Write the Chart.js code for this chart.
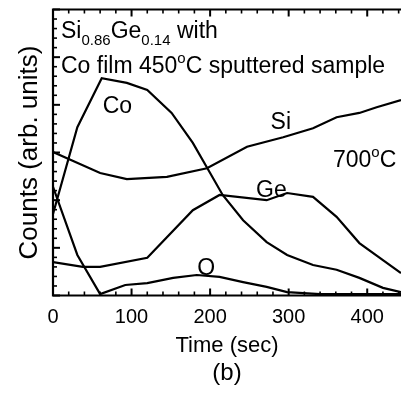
<!DOCTYPE html>
<html>
<head>
<meta charset="utf-8">
<script src="https://cdn.jsdelivr.net/npm/chart.js@4"></script>
<style>
  html, body { margin: 0; padding: 0; background: #fff; overflow: hidden; }
  #wrap { width: 401px; height: 397px; }
</style>
</head>
<body>
<div id="wrap"><canvas id="chart" width="401" height="397"></canvas></div>
<script>
// depth profile values (time in sec, counts in arb. units)
const coTime = [0, 31, 62, 94, 120, 151, 178, 200, 216, 242, 272, 298, 331, 361, 390, 420, 443];
const coCounts = [1.71, 3.53, 4.56, 4.46, 4.31, 3.83, 3.20, 2.57, 2.11, 1.58, 1.12, 0.85, 0.64, 0.54, 0.37, 0.16, 0.07];

const siTime = [0, 60, 94, 145, 196, 247, 293, 331, 361, 390, 412, 443];
const siCounts = [3.01, 2.57, 2.44, 2.49, 2.67, 3.12, 3.32, 3.51, 3.74, 3.83, 3.95, 4.10];

const geTime = [0, 38, 60, 120, 178, 212, 272, 298, 331, 361, 390, 420, 443];
const geCounts = [0.70, 0.60, 0.60, 0.79, 1.79, 2.11, 2.00, 2.15, 2.07, 1.65, 1.10, 0.74, 0.47];

const oTime = [0, 31, 60, 92, 120, 153, 183, 212, 242, 272, 298, 340, 443];
const oCounts = [2.28, 0.85, 0.03, 0.22, 0.26, 0.37, 0.43, 0.39, 0.28, 0.18, 0.07, 0.03, 0.03];

const xTicks = [0, 100, 200, 300, 400];

const FONT = "'Liberation Sans', Arial, Helvetica, sans-serif";
Chart.defaults.font.family = FONT;
Chart.defaults.color = '#000';

function pts(xs, ys) {
  return xs.map((x, i) => ({ x: x, y: ys[i] }));
}

function line(label, xs, ys) {
  return {
    label: label,
    data: pts(xs, ys),
    borderColor: '#000',
    borderWidth: 2.2,
    pointRadius: 0,
    tension: 0,
    fill: false
  };
}

// write a row of text pieces, some of them raised or lowered
function runs(ctx, x, y, parts) {
  parts.forEach(p => {
    ctx.font = p.size + 'px ' + FONT;
    ctx.fillText(p.t, x, y + (p.dy || 0));
    x += ctx.measureText(p.t).width;
  });
}

const frame = {
  id: 'frame',
  afterDraw(chart) {
    const ctx = chart.ctx;
    const { left, top, right, bottom } = chart.chartArea;
    const xs = chart.scales.x, ys = chart.scales.y;
    ctx.save();
    ctx.strokeStyle = '#000';
    ctx.lineWidth = 2.2;
    ctx.beginPath();
    ctx.moveTo(right + 5, top);
    ctx.lineTo(left, top);
    ctx.lineTo(left, bottom);
    ctx.lineTo(right + 5, bottom);
    ctx.stroke();

    // inward ticks, major every 100 s, minor every 20 s
    for (let v = 0; v <= 440; v += 20) {
      const px = xs.getPixelForValue(v);
      const len = v % 100 === 0 ? 7 : 4;
      ctx.lineWidth = v % 100 === 0 ? 2 : 1.6;
      ctx.beginPath();
      ctx.moveTo(px, bottom); ctx.lineTo(px, bottom - len);
      ctx.moveTo(px, top); ctx.lineTo(px, top + len);
      ctx.stroke();
    }
    for (let i = 0; i <= 30; i++) {
      const py = ys.getPixelForValue(i / 5);
      const len = i % 5 === 0 ? 7 : 4;
      ctx.lineWidth = i % 5 === 0 ? 2 : 1.6;
      ctx.beginPath();
      ctx.moveTo(left, py); ctx.lineTo(left + len, py);
      ctx.stroke();
    }

    ctx.fillStyle = '#000';
    ctx.textBaseline = 'alphabetic';
    ctx.textAlign = 'left';
    runs(ctx, 61, 38, [
      { t: 'Si', size: 23 }, { t: '0.86', size: 15, dy: 7 },
      { t: 'Ge', size: 23 }, { t: '0.14', size: 15, dy: 7 },
      { t: ' with', size: 23 }
    ]);
    runs(ctx, 61, 73, [
      { t: 'Co film 450', size: 23 }, { t: 'o', size: 15, dy: -10 },
      { t: 'C sputtered sample', size: 23 }
    ]);
    runs(ctx, 333, 167, [
      { t: '700', size: 23 }, { t: 'o', size: 15, dy: -10 }, { t: 'C', size: 23 }
    ]);

    ctx.font = '23px ' + FONT;
    ctx.textAlign = 'center';
    ctx.textBaseline = 'middle';
    ctx.fillText('Co', xs.getPixelForValue(82), ys.getPixelForValue(3.97));
    ctx.fillText('Si', xs.getPixelForValue(290), ys.getPixelForValue(3.63));
    ctx.fillText('Ge', xs.getPixelForValue(278), ys.getPixelForValue(2.2));
    ctx.fillText('O', xs.getPixelForValue(195), ys.getPixelForValue(0.56));

    ctx.font = '24px ' + FONT;
    ctx.fillText('(b)', 227, 373);
    ctx.restore();
  }
};

new Chart(document.getElementById('chart'), {
  type: 'line',
  data: {
    datasets: [
      line('Co', coTime, coCounts),
      line('Si', siTime, siCounts),
      line('Ge', geTime, geCounts),
      line('O', oTime, oCounts)
    ]
  },
  options: {
    responsive: false,
    animation: false,
    layout: { padding: { top: 9.5, right: 0, left: 0, bottom: 0 } },
    plugins: { legend: { display: false }, tooltip: { enabled: false } },
    scales: {
      x: {
        type: 'linear',
        min: 0,
        max: 443,
        grid: { display: false, drawTicks: false },
        border: { display: false },
        afterBuildTicks: s => { s.ticks = xTicks.map(v => ({ value: v })); },
        ticks: { font: { size: 20 }, color: '#000', padding: 10, maxRotation: 0, autoSkip: false },
        title: { display: true, text: 'Time (sec)', font: { size: 22 }, color: '#000', padding: { top: 0, bottom: 38 } },
        afterFit: s => { s.height = 101.5; }
      },
      y: {
        min: 0,
        max: 6,
        grid: { display: false, drawTicks: false },
        border: { display: false },
        ticks: { display: false },
        title: { display: true, text: 'Counts (arb. units)', font: { size: 26 }, color: '#000', padding: { top: 14, bottom: 0 } },
        afterFit: s => { s.width = 53; }
      }
    }
  },
  plugins: [frame]
});
</script>
</body>
</html>
